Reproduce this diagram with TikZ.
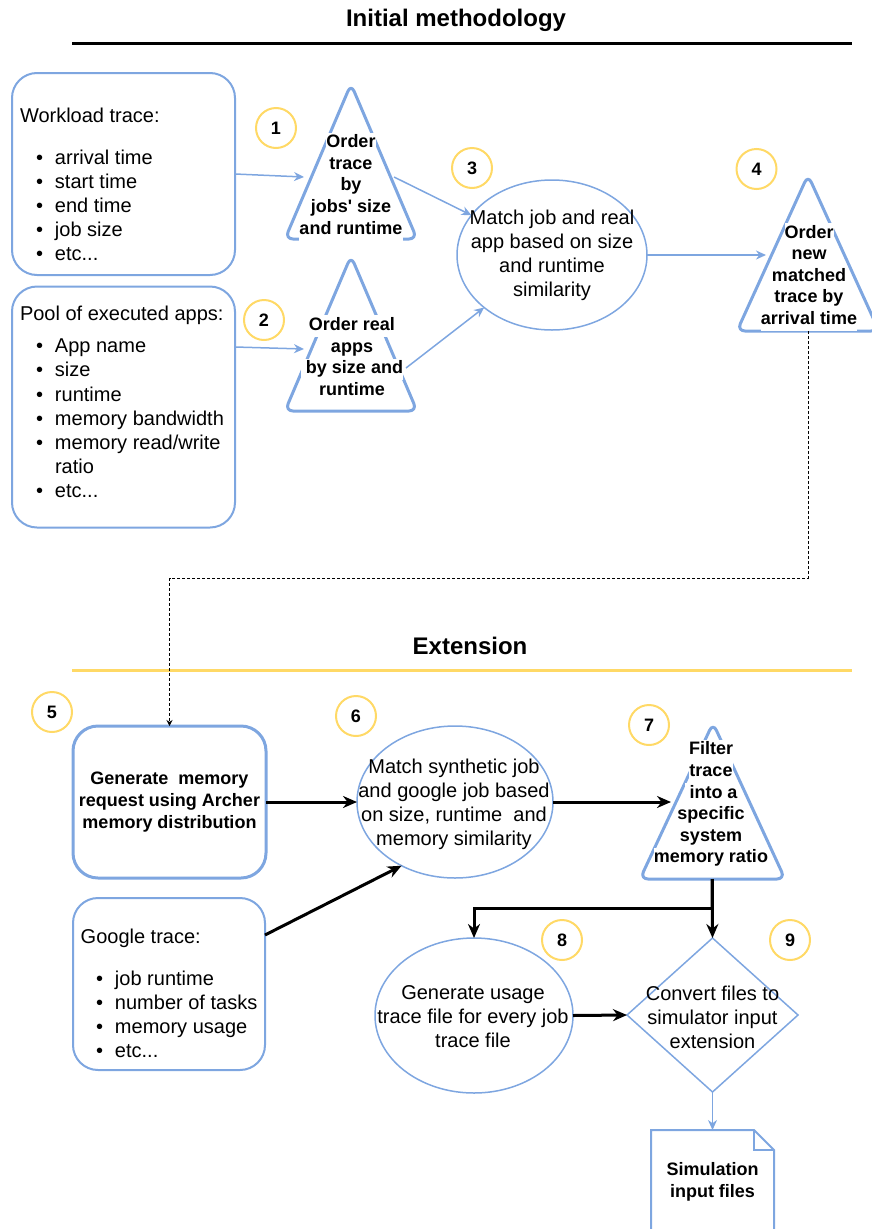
\documentclass[tikz,border=0pt]{standalone}
\usepackage{fontspec}
\setmainfont{Liberation Sans}
\usetikzlibrary{arrows.meta,shapes.geometric,calc}
\definecolor{edgeblue}{HTML}{7EA6E0}
\definecolor{stepyellow}{HTML}{FFD966}

% white background behind one line of a label
\newcommand{\linebg}[1]{{\setlength{\fboxsep}{0pt}\colorbox{white}{\strut #1}}}
% bullet followed by the item text
\newcommand{\bul}{\makebox[19pt][l]{\textbullet}}
% last list item (kept in a macro so \foreach does not read it as a range)
\newcommand{\etcdots}{etc...}

\begin{document}
\begin{tikzpicture}[x=1pt,y=-1pt,
  every node/.style={inner sep=0pt, outer sep=0pt},
  txt/.style={font=\fontsize{20}{24}\selectfont},
  ctxt/.style={txt, align=center},
  boldtxt/.style={font=\fontsize{18}{21.6}\selectfont\bfseries, align=center},
  title/.style={font=\fontsize{24}{28}\selectfont\bfseries},
  infobox/.style={draw=edgeblue, line width=2pt, rounded corners=25pt, fill=white},
  stepbox/.style={draw=edgeblue, line width=3pt, rounded corners=25pt, fill=white},
  tri/.style={draw=edgeblue, line width=3pt, rounded corners=8pt, line join=round},
  oval/.style={ellipse, draw=edgeblue, line width=1.5pt},
  stepnum/.style={circle, draw=stepyellow, line width=2pt, minimum size=40pt,
    font=\fontsize{18}{21.6}\selectfont\bfseries},
  bluearrow/.style={draw=edgeblue, line width=1.5pt, -{Stealth[length=10pt,width=9pt]}},
  blackarrow/.style={draw=black, line width=3pt, -{Stealth[length=14pt,width=12pt]}},
  dashconn/.style={draw=black, line width=1pt, dash pattern=on 3pt off 2pt,
    -{Stealth[length=6pt,width=6pt]}}
]
\useasboundingbox (0,0) rectangle (872,1229);

% ---------- section titles ----------
\node[title, anchor=base] (ttl1) at (456,26.5) {Initial methodology};
\draw[line width=3pt] (72,43) -- (852,43);
\node[title, anchor=base] (ttl2) at (470,654) {Extension};
\draw[line width=3pt, stepyellow] (72,670) -- (852,670);

% ---------- initial methodology ----------
\node[infobox, minimum width=223pt, minimum height=202pt] (wl) at (123.5,174) {};
\node[txt, anchor=base west] (wlh) at (20,122) {Workload trace:};
\foreach \t [count=\i from 0] in {arrival time, start time, end time, job size, \etcdots}
  \node[txt, anchor=base west] (wl-\i) at (36,{164+24*\i}) {\bul\t};

\node[infobox, minimum width=223pt, minimum height=241pt] (pool) at (123.5,407) {};
\node[txt, anchor=base west] (poolh) at (20,320) {Pool of executed apps:};
\foreach \t [count=\i from 0] in {{\bul App name}, {\bul size}, {\bul runtime},
    {\bul memory bandwidth}, {\bul memory read/write}, {\hspace*{19pt}ratio}, {\bul\etcdots}}
  \node[txt, anchor=base west] (pool-\i) at (36,{352.7+24.15*\i}) {\t};

% triangle 1
\draw[tri] (351,84) -- (417,239) -- (285,239) -- cycle;
\node[boldtxt] (t1lab) at (351,186.5)
  {\linebg{Order}\\\linebg{trace}\\\linebg{by}\\\linebg{jobs\textquotesingle\ size}\\\linebg{and runtime}};
\coordinate (t1w) at (304,177);
\coordinate (t1e) at (394,177);

% triangle 2
\draw[tri] (351,256) -- (417,411) -- (285,411) -- cycle;
\node[boldtxt] (t2lab) at (352,358.5)
  {\linebg{Order real}\\\linebg{apps}\\\linebg{ by size and}\\\linebg{runtime}};
\coordinate (t2w) at (304,349);
\coordinate (t2e) at (406,368);

% ellipse 3
\node[oval, minimum width=190pt, minimum height=150pt] (e3) at (552,255) {};
\node[ctxt] (e3lab) at (552,255) {Match job and real\\app based on size\\and runtime\\similarity};

% triangle 4
\draw[tri] (808,175) -- (879,331) -- (737,331) -- cycle;
\node[boldtxt] (t4lab) at (809,277)
  {\linebg{Order}\\\linebg{new}\\\linebg{matched}\\\linebg{trace by}\\\linebg{arrival time}};
\coordinate (t4w) at (766,255);
\coordinate (t4s) at (808,331);

% step numbers
\node[stepnum] (n1) at (276,128) {1};
\node[stepnum] (n2) at (264,320) {2};
\node[stepnum] (n3) at (472,168) {3};
\node[stepnum] (n4) at (756.5,169) {4};

% connectors
\draw[bluearrow] (wl.east) -- (t1w);
\draw[bluearrow] (t1e) -- (e3);
\draw[bluearrow] ([yshift=60pt]pool.east) -- (t2w);
\draw[bluearrow] (t2e) -- (e3);
\draw[bluearrow] (e3.east) -- (t4w);

% ---------- extension ----------
\node[stepbox, minimum width=193pt, minimum height=152pt] (gen5) at (169.5,802) {};
\node[boldtxt, font=\fontsize{18}{22}\selectfont\bfseries] (gen5lab) at (169.5,802)
  {Generate~ memory\\request using Archer\\memory distribution};

\draw[dashconn] (t4s) -- ++(0,247) -| (gen5.north);

\node[oval, minimum width=196pt, minimum height=152pt] (e6) at (455,802) {};
\node[ctxt] (e6lab) at (454,804)
  {Match synthetic job\\and google job based\\on size, runtime~ and\\memory similarity};

% triangle 7
\draw[tri] (713,723) -- (785,879) -- (640,879) -- cycle;
\node[boldtxt] (t7lab) at (711,804.5)
  {\linebg{Filter}\\\linebg{trace}\\\linebg{ into a}\\\linebg{specific}\\\linebg{system}\\\linebg{memory ratio}};
\coordinate (t7w) at (671,802);
\coordinate (t7s) at (712,879);

\node[infobox, minimum width=192pt, minimum height=172pt] (google) at (169,984) {};
\node[txt, anchor=base west] (googleh) at (80.7,943.3) {Google trace:};
\foreach \t [count=\i from 0] in {job runtime, number of tasks, memory usage, \etcdots}
  \node[txt, anchor=base west] (google-\i) at (96,{985+24.2*\i}) {\bul\t};

\node[oval, minimum width=198pt, minimum height=155pt] (e8) at (474,1015.5) {};
\node[ctxt] (e8lab) at (473,1017)
  {Generate usage\\trace file for every job\\trace file};

\node[diamond, draw=edgeblue, line width=1.5pt, minimum width=171pt, minimum height=154pt] (d9) at (712.5,1015) {};
\node[ctxt] (d9lab) at (712.5,1017)
  {Convert files to\\simulator input\\extension};

% output document with folded corner
\node[minimum width=123pt, minimum height=130pt] (doc) at (712.5,1195) {};
\draw[draw=edgeblue, line width=2pt, line join=miter]
  ([yshift=-20pt]doc.south west) -- (doc.north west) -- ([xshift=-20pt]doc.north east)
  -- ([yshift=-20pt]doc.north east) -- ([yshift=-20pt]doc.south east);
\draw[draw=edgeblue, line width=1.5pt]
  ([xshift=-20pt]doc.north east) -- ([xshift=-20pt,yshift=-20pt]doc.north east)
  -- ([yshift=-20pt]doc.north east);
\node[boldtxt] (doclab) at (712.5,1182) {Simulation\\input files};

% step numbers
\node[stepnum] (n5) at (52,712) {5};
\node[stepnum] (n6) at (356,716) {6};
\node[stepnum] (n7) at (649,725) {7};
\node[stepnum] (n8) at (562,940) {8};
\node[stepnum] (n9) at (790,940) {9};

% connectors
\draw[blackarrow] (gen5.east) -- (e6.west);
\draw[blackarrow] (e6.east) -- (t7w);
\draw[blackarrow] ([yshift=49pt]google.east) -- (e6.230);
\draw[blackarrow] (t7s) -- ++(0,29) -| (e8.north);
\draw[blackarrow] (t7s) -- (d9.north);
\draw[blackarrow] (e8.east) -- (d9.west);
\draw[bluearrow] (d9.south) -- (doc.north);
\end{tikzpicture}
\end{document}
